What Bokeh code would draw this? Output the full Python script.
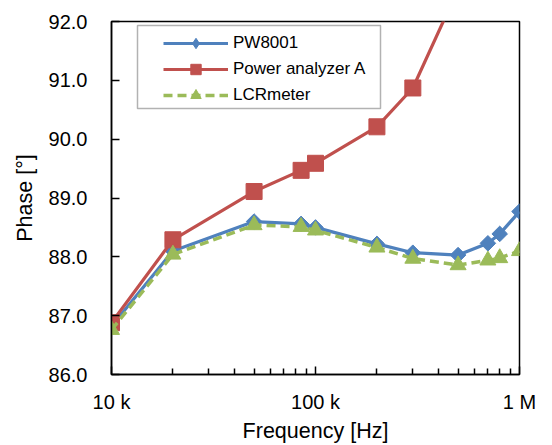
from bokeh.plotting import figure
from bokeh.models import (Range1d, FixedTicker, PrintfTickFormatter, Legend, LegendItem,
                          BoxAnnotation)
from bokeh.embed import file_html
from bokeh.resources import INLINE

# ---- data ----
freq_pw = [10e3, 20e3, 50e3, 85e3, 100e3, 200e3, 300e3, 500e3, 700e3, 800e3, 1e6]
phase_pw = [86.82, 88.10, 88.60, 88.56, 88.50, 88.22, 88.07, 88.03, 88.23, 88.39, 88.77]

freq_pa = [10e3, 20e3, 50e3, 85e3, 100e3, 200e3, 300e3, 500e3]
phase_pa = [86.88, 88.29, 89.11, 89.47, 89.59, 90.21, 90.87, 92.55]

freq_lcr = [10e3, 20e3, 50e3, 85e3, 100e3, 200e3, 300e3, 500e3, 700e3, 800e3, 1e6]
phase_lcr = [86.76, 88.04, 88.54, 88.51, 88.45, 88.16, 87.97, 87.86, 87.94, 87.98, 88.10]

series_names = ["PW8001", "Power analyzer A", "LCRmeter"]

x_tick_values = [10e3, 100e3, 1e6]
x_tick_labels = ["10 k", "100 k", "1 M"]
x_minor_values = [2e4, 3e4, 4e4, 5e4, 6e4, 7e4, 8e4, 9e4,
                  2e5, 3e5, 4e5, 5e5, 6e5, 7e5, 8e5, 9e5]
y_tick_values = [86, 87, 88, 89, 90, 91, 92]

x_label = "Frequency [Hz]"
y_label = "Phase [°]"

# ---- styling ----
FONT = "Liberation Sans"
BLUE = "#4F81BD"
RED = "#C0504D"
GREEN = "#9BBB59"

p = figure(x_axis_type="log", output_backend="svg", toolbar_location=None,
           frame_width=408, frame_height=353,
           min_border_left=111, min_border_right=33,
           min_border_top=21, min_border_bottom=71,
           x_range=Range1d(10e3, 1e6), y_range=Range1d(86, 92))

p.background_fill_color = "white"
p.border_fill_color = "white"
p.outline_line_color = "black"
p.outline_line_width = 1.5
p.xgrid.grid_line_color = None
p.ygrid.grid_line_color = None

# axes
p.xaxis.ticker = FixedTicker(ticks=x_tick_values, minor_ticks=x_minor_values)
p.xaxis.major_label_overrides = {v: l for v, l in zip(x_tick_values, x_tick_labels)}
p.yaxis.ticker = FixedTicker(ticks=y_tick_values)
p.yaxis.formatter = PrintfTickFormatter(format="%.1f")

for ax in (p.xaxis[0], p.yaxis[0]):
    ax.axis_line_color = "black"
    ax.axis_line_width = 1.5
    ax.major_tick_line_color = "black"
    ax.major_tick_line_width = 1.5
    ax.major_tick_in = 8
    ax.major_tick_out = 0
    ax.minor_tick_line_color = "black"
    ax.minor_tick_line_width = 1.5
    ax.minor_tick_in = 6
    ax.minor_tick_out = 0
    ax.major_label_text_font = FONT
    ax.major_label_text_font_size = "20px"
    ax.major_label_text_color = "black"
    ax.axis_label_text_font = FONT
    ax.axis_label_text_font_size = "21.5px"
    ax.axis_label_text_font_style = "normal"
    ax.axis_label_text_color = "black"

p.yaxis.minor_tick_line_color = None
p.xaxis.axis_label = x_label
p.yaxis.axis_label = y_label
p.yaxis.major_label_standoff = 24
p.yaxis.axis_label_standoff = 9
p.xaxis.major_label_standoff = 16
p.xaxis.axis_label_standoff = 3

# series
l1 = p.line(freq_pw, phase_pw, line_color=BLUE, line_width=3.2, line_join="round")
m1 = p.scatter(freq_pw, phase_pw, marker="square", angle=0.785398, size=11,
               fill_color=BLUE, line_color=BLUE)
# legend key for the diamond (same data, hidden in the plot)
m1_key = p.scatter(freq_pw, phase_pw, marker="diamond", size=14,
                   fill_color=BLUE, line_color=BLUE, visible=False)

l2 = p.line(freq_pa, phase_pa, line_color=RED, line_width=3.2, line_join="round")
m2 = p.scatter(freq_pa, phase_pa, marker="square", size=16,
               fill_color=RED, line_color=RED)

l3 = p.line(freq_lcr, phase_lcr, line_color=GREEN, line_width=3.5,
            line_dash="9 5", line_join="round")
m3 = p.scatter(freq_lcr, phase_lcr, marker="triangle", size=16,
               fill_color=GREEN, line_color=GREEN)

# legend frame (drawn separately so the entries can be indented)
box = BoxAnnotation(left=137, right=380, top=25, bottom=108,
                    left_units="canvas", right_units="canvas",
                    top_units="canvas", bottom_units="canvas",
                    fill_color="white", fill_alpha=1.0,
                    line_color="black", line_width=1.5, level="annotation")
p.add_layout(box)

legend = Legend(items=[
    LegendItem(label=series_names[0], renderers=[l1, m1_key]),
    LegendItem(label=series_names[1], renderers=[l2, m2]),
    LegendItem(label=series_names[2], renderers=[l3, m3]),
], location=(52, 266))
legend.border_line_color = None
legend.background_fill_alpha = 0.0
legend.label_text_font = FONT
legend.label_text_font_size = "17px"
legend.label_text_color = "black"
legend.glyph_width = 65
legend.glyph_height = 26
legend.label_height = 20
legend.spacing = 0
legend.padding = 0
legend.margin = 0
legend.label_standoff = 5
p.add_layout(legend)

open("out.html", "w").write(file_html(p, INLINE))
